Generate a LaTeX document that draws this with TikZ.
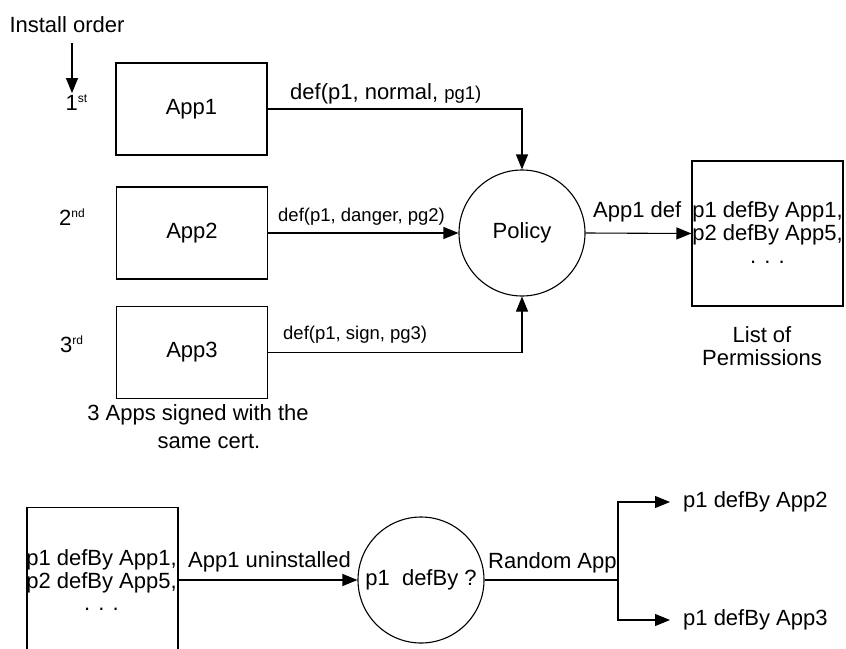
\documentclass[tikz,border=0pt]{standalone}
\usepackage{fontspec}
\setmainfont{Liberation Sans}
\usetikzlibrary{arrows.meta}
\newcommand\ordsup[1]{\raisebox{8pt}{\fontsize{12}{12}\selectfont #1}}
\begin{document}
\begin{tikzpicture}[x=1pt,y=-1pt,
  every node/.style={font=\fontsize{22}{23}\selectfont, inner sep=0pt},
  lbl/.style={font=\fontsize{18.5}{20}\selectfont, anchor=base west},
  txt/.style={anchor=base},
  txtw/.style={anchor=base west},
  frame/.style={draw, line width=1.1pt},
  appbox/.style={frame, minimum width=151pt, minimum height=92pt},
  listbox/.style={frame, minimum width=151pt},
  circ/.style={frame, circle, minimum size=126pt},
  conn/.style={line width=1.1pt},
  arr/.style={conn, -{Triangle[length=15pt,width=12pt]}},
  result/.style={anchor=west, inner xsep=13pt}
]
\useasboundingbox (0,0) rectangle (846,648);
\clip (0,0) rectangle (846,648);

% install order column
\node[txt] (order) at (67,32) {Install order};
\node[txt] (n1) at (76.5,110) {1\ordsup{st}};
\node[txt] (n2) at (72,225) {2\ordsup{nd}};
\node[txt] (n3) at (71.5,352) {3\ordsup{rd}};
\coordinate (ordtop) at (72,43);
\draw[arr, shorten >=1pt] (ordtop) -- (ordtop |- n1.north);

% the three apps
\node[appbox] (app1) at (191.5,109) {App1};
\node[appbox] (app2) at (192,233) {App2};
\node[appbox] (app3) at (192,352.5) {App3};
\node[txt] (cap1) at (198,420) {3 Apps signed with the};
\node[txt] (cap2) at (209,448) {same cert.};

% policy and resulting list
\node[circ] (policy) at (522,233) {Policy};
\draw[arr] (app1.east) -| (policy.north);
\draw[arr] (app2.east) -- (policy.west);
\draw[arr] (app3.east) -| (policy.south);
\node[lbl, font=\fontsize{22}{23}\selectfont] (d1) at (290,99) {def(p1, normal, {\fontsize{18.5}{20}\selectfont pg1)}};
\node[lbl] (d2) at (278,221) {def(p1, danger, pg2)};
\node[lbl] (d3) at (283,339) {def(p1, sign, pg3)};

\node[listbox, minimum height=145pt] (perms) at (767.5,233.5) {};
\draw[arr] (policy.east) -- (perms.west);
\node[txtw] (pdef) at (593,217) {App1 def};
\node[txt] (pl1) at (767.5,217) {p1 defBy App1,};
\node[txt] (pl2) at (767.5,240) {p2 defBy App5,};
\node[txt] (pl3) at (767.5,263) {. . .};
\node[txt] (lo1) at (762,342) {List of};
\node[txt] (lo2) at (762,365) {Permissions};

% uninstall scenario
\node[listbox, minimum height=170pt, anchor=north] (oldlist) at (102.5,507) {};
\node[txt] (ol1) at (101.5,565) {p1 defBy App1,};
\node[txt] (ol2) at (101.5,588) {p2 defBy App5,};
\node[txt] (ol3) at (101.5,610) {. . .};

\node[circ] (lookup) at (421,580) {p1\ \ defBy ?};
\draw[arr] (oldlist.east |- lookup.west) -- (lookup.west);
\node[txtw] (unl) at (188,567) {App1 uninstalled};

\coordinate (fork) at (618,580);
\draw[conn] (lookup.east) -- (fork);
\node[txtw] (rnd) at (488,568) {Random App};
\node[result] (res2) at (670,502) {p1 defBy App2};
\node[result] (res3) at (670,620) {p1 defBy App3};
\draw[arr] (fork) |- (res2.west);
\draw[arr] (fork) |- (res3.west);
\end{tikzpicture}
\end{document}
